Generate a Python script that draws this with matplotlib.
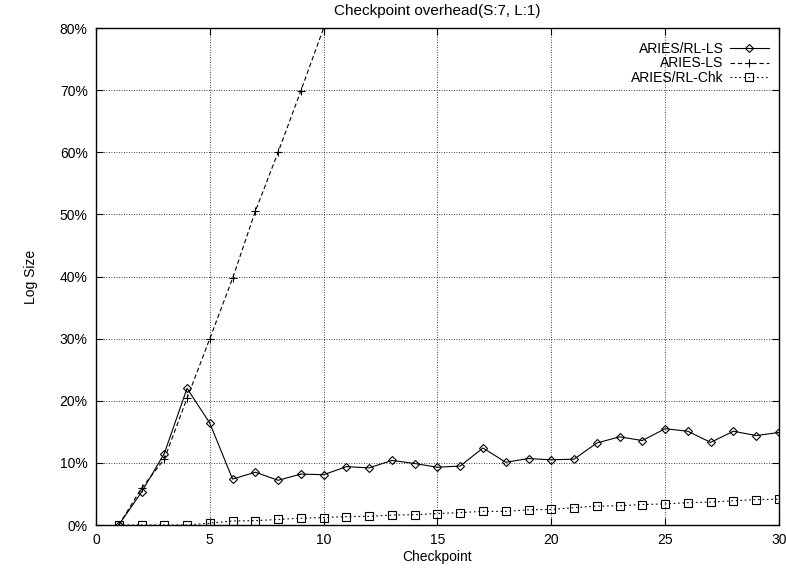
import matplotlib
matplotlib.use('Agg')
import matplotlib.pyplot as plt
from matplotlib.ticker import FuncFormatter

# Datos
checkpoints = list(range(1, 31))
rl_ls = [0, 5.3, 11.5, 22.0, 16.4, 7.4, 8.5, 7.2, 8.2, 8.1,
         9.4, 9.2, 10.4, 9.9, 9.3, 9.5, 12.4, 10.1, 10.7, 10.5,
         10.6, 13.2, 14.2, 13.6, 15.5, 15.1, 13.3, 15.1, 14.4, 14.9]
ls_checkpoints = list(range(1, 11))
aries_ls = [0, 5.9, 10.6, 20.4, 30.0, 39.7, 50.5, 60.0, 69.9, 80.0]
rl_chk = [0, 0, 0, 0, 0.3, 0.65, 0.7, 0.9, 1.1, 1.2,
          1.35, 1.4, 1.6, 1.65, 1.85, 2.0, 2.2, 2.2, 2.45, 2.5,
          2.8, 3.05, 3.1, 3.3, 3.4, 3.6, 3.7, 3.9, 4.1, 4.15]

plt.rcParams['font.family'] = ['Liberation Sans', 'DejaVu Sans']
plt.rcParams['font.size'] = 10

fig = plt.figure(figsize=(7.86, 5.70), dpi=100)
ax = fig.add_axes([0.1221, 0.0789, 0.8689, 0.8719])

ax.plot(checkpoints, rl_ls, color='black', linewidth=0.8, marker='D',
        markersize=4.2, markerfacecolor='none', markeredgewidth=0.8,
        label='ARIES/RL-LS')
ax.plot(ls_checkpoints, aries_ls, color='black', linewidth=0.8,
        linestyle=(0, (4, 2.5)), marker='+', markersize=5.5,
        markeredgewidth=0.8, label='ARIES-LS')
ax.plot(checkpoints, rl_chk, color='black', linewidth=0.8,
        linestyle=(0, (1.5, 2.5)), marker='s', markersize=5.5,
        markerfacecolor='none', markeredgewidth=0.8, label='ARIES/RL-Chk')

ax.set_xlim(0, 30)
ax.set_ylim(0, 80)
ax.set_xticks(range(0, 31, 5))
ax.set_yticks(range(0, 81, 10))
ax.yaxis.set_major_formatter(FuncFormatter(lambda v, p: '%d%%' % v))
ax.tick_params(direction='in', length=5, width=0.8, top=True, right=True,
               pad=6)
ax.grid(True, color='black', linewidth=0.6, linestyle=(0, (1, 2)))

for s in ax.spines.values():
    s.set_linewidth(1.0)

ax.set_title('Checkpoint overhead(S:7, L:1)', pad=9.5, fontsize=11)
ax.set_xlabel('Checkpoint', labelpad=2)
ax.set_ylabel('Log Size')
ax.yaxis.set_label_coords(-0.085, 0.5)

ax.legend(loc='upper right', frameon=False, markerfirst=False,
          handlelength=2.8, handletextpad=0.45, labelspacing=0.04,
          bbox_to_anchor=(1.0, 0.993), borderaxespad=0.35)

fig.savefig('out.png', dpi=100)
